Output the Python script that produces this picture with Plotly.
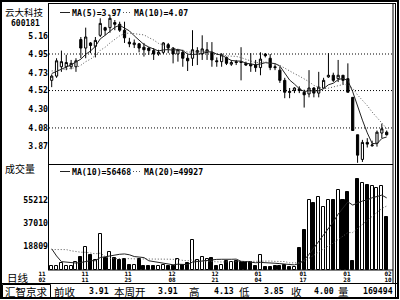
import plotly.graph_objects as go
import pandas as pd

W, H = 400, 300
def PX(x):
    return x / W
def PY(y):
    return 1 - y / H

stock_name = "云大科技"
stock_code = "600181"

opens = [4.64, 4.69, 4.80, 4.80, 4.80, 4.80, 5.12, 5.02, 5.08, 5.04,
         5.17, 5.26, 5.26, 5.32, 5.30, 5.23, 5.09, 5.06, 5.07, 5.03,
         5.02, 4.99, 4.95, 4.97, 5.06, 5.02, 4.95, 4.97, 4.90, 4.90,
         4.97, 4.95, 4.97, 4.97, 4.87, 4.86, 4.91, 4.83, 4.86, 4.86,
         4.84, 4.83, 4.82, 4.79, 4.95, 4.90, 4.80, 4.76, 4.64, 4.51,
         4.52, 4.54, 4.50, 4.48, 4.55, 4.49, 4.55, 4.68, 4.70, 4.66,
         4.70, 4.66, 4.44, 4.00, 3.71, 3.91, 3.87, 3.90, 4.02, 4.03]
highs = [4.71, 4.90, 4.99, 4.94, 4.88, 4.90, 5.15, 5.26, 5.09, 5.15,
         5.37, 5.27, 5.41, 5.35, 5.33, 5.33, 5.14, 5.12, 5.08, 5.08,
         5.03, 5.02, 5.00, 5.09, 5.08, 5.03, 5.01, 5.00, 4.94, 5.23,
         5.03, 5.17, 5.09, 5.09, 4.91, 4.96, 4.92, 4.88, 4.88, 5.03,
         4.86, 4.96, 4.88, 4.97, 4.96, 4.95, 4.83, 4.80, 4.67, 4.55,
         4.56, 4.57, 4.53, 4.76, 4.56, 4.74, 4.67, 4.96, 4.73, 4.88,
         4.70, 4.84, 4.44, 4.00, 3.94, 3.96, 3.93, 4.05, 4.13, 4.05]
lows = [4.56, 4.67, 4.74, 4.76, 4.77, 4.74, 4.90, 4.90, 4.96, 4.91,
        5.15, 5.17, 5.20, 5.23, 5.21, 5.08, 5.03, 5.02, 4.97, 4.92,
        4.94, 4.88, 4.93, 4.95, 4.96, 4.84, 4.86, 4.80, 4.75, 4.81,
        4.82, 4.88, 4.88, 4.80, 4.80, 4.80, 4.82, 4.81, 4.82, 4.64,
        4.81, 4.74, 4.74, 4.70, 4.91, 4.76, 4.76, 4.61, 4.43, 4.43,
        4.49, 4.49, 4.32, 4.44, 4.44, 4.44, 4.54, 4.67, 4.62, 4.62,
        4.59, 4.50, 4.05, 3.67, 3.68, 3.85, 3.86, 3.86, 3.96, 3.99]
closes = [4.69, 4.87, 4.86, 4.85, 4.84, 4.87, 5.02, 5.15, 5.05, 5.11,
          5.31, 5.23, 5.37, 5.30, 5.23, 5.14, 5.07, 5.08, 5.02, 5.00,
          4.99, 4.95, 4.97, 5.08, 5.02, 4.95, 5.00, 4.90, 4.87, 5.00,
          4.99, 5.01, 5.00, 4.88, 4.86, 4.94, 4.84, 4.85, 4.85, 4.85,
          4.82, 4.81, 4.79, 4.89, 4.93, 4.79, 4.79, 4.64, 4.50, 4.50,
          4.55, 4.52, 4.47, 4.55, 4.49, 4.56, 4.64, 4.70, 4.64, 4.70,
          4.64, 4.50, 4.05, 3.76, 3.91, 3.89, 3.88, 4.03, 4.07, 4.00]
volumes = [3200, 3200, 5300, 3200, 2600, 5800, 10500, 18000, 11900, 7900,
           28500, 9200, 13700, 9200, 7900, 8400, 4000, 4000, 8400, 3200,
           3200, 3200, 3200, 4000, 3200, 3200, 8400, 4000, 5300, 23200,
           7400, 10500, 8400, 9200, 2600, 4000, 6600, 5800, 6600, 5800,
           5800, 5800, 3200, 11900, 2100, 2100, 2600, 2600, 4000, 2100,
           2100, 17100, 31600, 55400, 53200, 57500, 49600, 55400, 54900, 63300,
           54900, 61400, 6600, 72000, 68500, 67000, 66000, 65000, 66000, 41400]
# sessions before the first visible one (needed for the moving averages)
pre_closes = [4.80, 4.78, 4.76, 4.79, 4.77, 4.74, 4.72, 4.75, 4.70]
pre_volumes = [4000, 3000, 5000, 22000, 18000, 21000, 19000, 20000, 23000, 19000,
               60000, 50000, 7000, 8000, 7500, 6500, 8000, 7500, 8300]

price_ticks = [5.16, 4.95, 4.73, 4.52, 4.30, 4.08, 3.87]
price_grid = [4.95, 4.52, 4.08]
volume_ticks = [18809, 37010, 55212]
date_months = ["11", "11", "11", "12", "12", "01", "01", "01", "02"]
date_days = ["02", "11", "25", "08", "21", "04", "17", "28", "10"]
date_pos = [-2.0, 6.86, 15.72, 24.78, 33.64, 42.49, 51.76, 60.82, 69.27]

legend_price = ["MA(5)=3.97", "MA(10)=4.07"]
legend_vol = ["MA(10)=56468", "MA(20)=49927"]
info_items = [("前收", 53, "cjk"), ("3.91", 88, "num"), ("本周开", 113, "cjk"),
              ("3.91", 157, "num"), ("高", 188, "cjk"), ("4.13", 213, "num"),
              ("低", 238, "cjk"), ("3.85", 263, "num"), ("收", 290, "cjk"),
              ("4.00", 313, "num"), ("量", 337, "cjk"), ("169494", 362, "num")]

n = len(closes)
idx = list(range(n))
npre = len(pre_closes)
cs = pd.Series(pre_closes + closes)
ma5 = cs.rolling(5).mean().tolist()[npre:]
ma10 = cs.rolling(10).mean().tolist()[npre:]
vpre = len(pre_volumes)
vs = pd.Series(pre_volumes + volumes)
vma10 = vs.rolling(10).mean().tolist()[vpre:]
vma20 = vs.rolling(20).mean().tolist()[vpre:]

vol_colors = ['white' if c >= o else 'black' for o, c in zip(opens, closes)]

MONO = "DejaVu Sans Mono"
CJK = "Noto Sans CJK SC"

# x mapping: candle i at pixel 51.7 + 4.855*i
step = 4.855
x0px = 51.7
dom = [PX(30), PX(399)]
xr = [(30 - x0px) / step, (399 - x0px) / step]

fig = go.Figure()
fig.add_trace(go.Candlestick(
    x=idx, open=opens, high=highs, low=lows, close=closes,
    increasing=dict(line=dict(color='black', width=1), fillcolor='white'),
    decreasing=dict(line=dict(color='black', width=1), fillcolor='black'),
    whiskerwidth=0, xaxis='x', yaxis='y', hoverinfo='skip'))
fig.add_trace(go.Scatter(x=idx, y=ma5, mode='lines', line=dict(color='#222', width=1),
                         xaxis='x', yaxis='y', hoverinfo='skip'))
fig.add_trace(go.Scatter(x=idx, y=ma10, mode='lines',
                         line=dict(color='#555', width=1, dash='1px,2px'),
                         xaxis='x', yaxis='y', hoverinfo='skip'))
fig.add_trace(go.Bar(x=idx, y=volumes, width=0.62,
                     marker=dict(color=vol_colors, line=dict(color='black', width=1)),
                     xaxis='x2', yaxis='y2', hoverinfo='skip'))
fig.add_trace(go.Scatter(x=idx, y=vma10, mode='lines', line=dict(color='#222', width=1),
                         xaxis='x2', yaxis='y2', hoverinfo='skip'))
fig.add_trace(go.Scatter(x=idx, y=vma20, mode='lines',
                         line=dict(color='#555', width=1, dash='1px,2px'),
                         xaxis='x2', yaxis='y2', hoverinfo='skip'))

pr_bottom = 4.95 - (164 - 54) / 85
pr_top = 4.95 + (54 - 3) / 85
vpp = 791.4
vol_bottom = -(270 - 269.77) * vpp
vol_top = (269.77 - 165) * vpp

tickfont = dict(family=MONO, size=8.2, color='black', weight='bold')
datefont = dict(family=MONO, size=6, color='black', weight='bold')

fig.update_layout(
    width=W, height=H, autosize=False,
    margin=dict(l=0, r=0, t=0, b=0, pad=0),
    paper_bgcolor='white', plot_bgcolor='rgba(0,0,0,0)',
    showlegend=False, hovermode=False, boxgap=0.35, bargap=0,
    xaxis=dict(domain=dom, range=xr, showgrid=False, zeroline=False, showline=False,
               ticks='', tickvals=date_pos, ticktext=date_days, tickfont=datefont,
               anchor='free', position=PY(274.8), rangeslider=dict(visible=False)),
    xaxis2=dict(domain=dom, range=xr, showgrid=False, zeroline=False, showline=False,
                ticks='', tickvals=date_pos, ticktext=date_months, tickfont=datefont,
                anchor='free', position=PY(268.8)),
    yaxis=dict(domain=[PY(164), PY(3)], range=[pr_bottom, pr_top], showgrid=False,
               zeroline=False, showline=False, ticks='', tickvals=price_ticks,
               ticktext=[f"{v:.2f}" for v in price_ticks], tickfont=tickfont,
               anchor='free', position=PX(48)),
    yaxis2=dict(domain=[PY(270), PY(165)], range=[vol_bottom, vol_top], showgrid=False,
                zeroline=False, showline=False, ticks='', tickvals=volume_ticks,
                ticktext=[str(v) for v in volume_ticks], tickfont=tickfont,
                anchor='free', position=PX(48)),
)

shapes = []
def pline(x0, y0, x1, y1, width=1, color='black', dash='solid'):
    shapes.append(dict(type='line', xref='paper', yref='paper',
                       x0=PX(x0), y0=PY(y0), x1=PX(x1), y1=PY(y1),
                       line=dict(color=color, width=width, dash=dash)))

# frame
shapes.append(dict(type='rect', xref='paper', yref='paper', x0=PX(1), y0=PY(1),
                   x1=PX(398), y1=PY(298), line=dict(color='black', width=2)))
pline(48, 3.5, 395.5, 3.5)
pline(48.5, 3, 48.5, 270)
pline(393, 3, 393, 283)
pline(395.5, 3, 395.5, 298)
pline(48, 164.5, 393, 164.5)
pline(48, 270, 393, 270)
pline(0, 283.5, 399, 283.5)
shapes.append(dict(type='rect', xref='paper', yref='paper', x0=PX(2.5), y0=PY(284.5),
                   x1=PX(50.5), y1=PY(297.5), line=dict(color='black', width=1)))
# price grid
for g in price_grid:
    shapes.append(dict(type='line', xref='paper', yref='y', x0=PX(49), x1=PX(393),
                       y0=g, y1=g, line=dict(color='black', width=1, dash='1px,2px')))
# legend keys
pline(60, 12.5, 70, 12.5, color='#222')
pline(123, 12.5, 132, 12.5, color='#555', dash='1px,2px')
pline(60, 171.5, 70, 171.5, color='#222')
pline(133, 171.5, 142, 171.5, color='#555', dash='1px,2px')

annotations = []
def text(s, x, y, family, size, bold=False):
    annotations.append(dict(text=s, xref='paper', yref='paper', x=PX(x), y=PY(y),
                            xanchor='left', yanchor='middle', showarrow=False,
                            borderpad=0,
                            font=dict(family=family, size=size, color='black',
                                      weight='bold' if bold else 'normal')))

text(stock_name, 4, 11.5, CJK, 9.5)
text(stock_code, 10, 23.5, MONO, 8, True)
text(legend_price[0], 71, 13, MONO, 8.2, True)
text(legend_price[1], 133, 13, MONO, 8.2, True)
text("成交量", 4, 168, CJK, 10)
text(legend_vol[0], 71, 172, MONO, 8.2, True)
text(legend_vol[1], 143, 172, MONO, 8.2, True)
text("日线", 6, 277, CJK, 10.5)
text("汇智京求", 4, 291, CJK, 10.5)
for s, xp, kind in info_items:
    if kind == 'cjk':
        text(s, xp, 291, CJK, 10.5)
    else:
        text(s, xp, 291, MONO, 8.2, True)

fig.update_layout(shapes=shapes, annotations=annotations)
fig.write_html("out.html")
